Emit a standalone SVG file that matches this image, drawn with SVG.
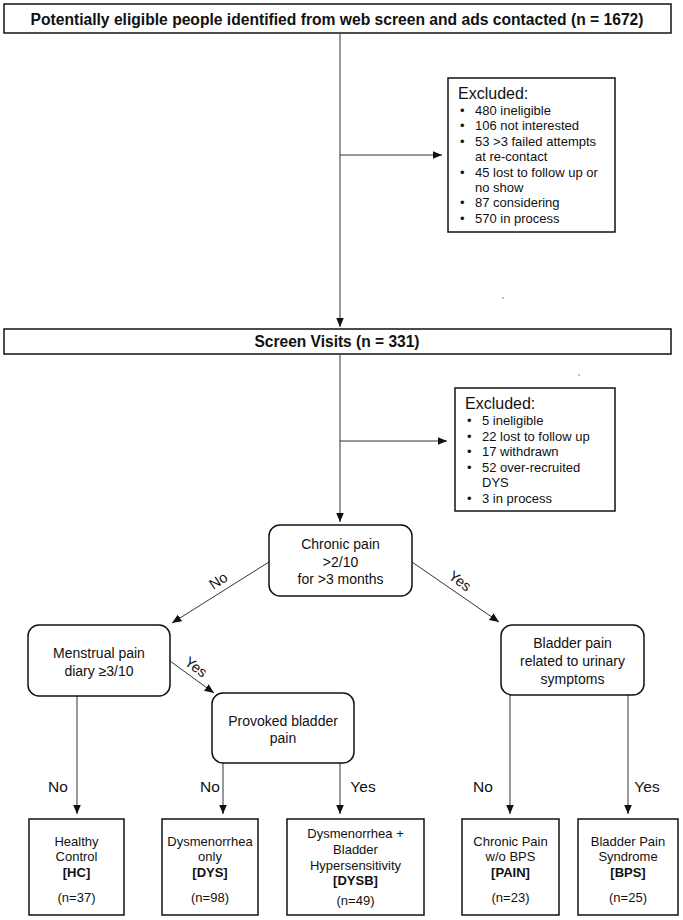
<svg xmlns="http://www.w3.org/2000/svg" width="683" height="920" viewBox="0 0 683 920">
<style>
text{font-family:"Liberation Sans",Arial,sans-serif;fill:#111}
.title{font-size:16px;font-weight:bold;text-anchor:middle}
.ex{font-size:13px}
.exh{font-size:16px}
.n{font-size:14px;text-anchor:middle}
.b{font-size:13px;text-anchor:middle}
.bb{font-size:13px;font-weight:bold;text-anchor:middle}
.lbl{font-size:15.5px;text-anchor:middle}
.rl{font-size:14.5px;text-anchor:middle}
.box{fill:#fff;stroke:#111;stroke-width:1.5}
.ln{fill:none;stroke:#333;stroke-width:1}
</style>
<defs>
<marker id="ah" markerUnits="userSpaceOnUse" markerWidth="11" markerHeight="9" refX="9.5" refY="4" orient="auto">
<path d="M0,0 L9.5,4 L0,8 z" fill="#111"/>
</marker>
</defs>
<rect width="683" height="920" fill="#fff"/>
<circle cx="503" cy="298" r="0.8" fill="#777"/>
<circle cx="579" cy="375" r="0.8" fill="#777"/>
<g id="connectors">
<line class="ln" x1="340" y1="34" x2="340" y2="327" marker-end="url(#ah)"/>
<line class="ln" x1="340" y1="155" x2="442" y2="155" marker-end="url(#ah)"/>
<line class="ln" x1="340" y1="355" x2="340" y2="522" marker-end="url(#ah)"/>
<line class="ln" x1="340" y1="441" x2="447" y2="441" marker-end="url(#ah)"/>
<line class="ln" x1="269" y1="562" x2="172" y2="623" marker-end="url(#ah)"/>
<line class="ln" x1="412" y1="562" x2="499" y2="622" marker-end="url(#ah)"/>
<line class="ln" x1="170" y1="661" x2="214" y2="693" marker-end="url(#ah)"/>
<line class="ln" x1="77" y1="696" x2="77" y2="814" marker-end="url(#ah)"/>
<line class="ln" x1="223" y1="763" x2="223" y2="814" marker-end="url(#ah)"/>
<line class="ln" x1="340" y1="763" x2="340" y2="814" marker-end="url(#ah)"/>
<line class="ln" x1="510" y1="695" x2="510" y2="814" marker-end="url(#ah)"/>
<line class="ln" x1="628" y1="695" x2="628" y2="814" marker-end="url(#ah)"/>
<text class="rl" transform="translate(221,585) rotate(-33)">No</text>
<text class="rl" transform="translate(457,585) rotate(36)">Yes</text>
<text class="rl" transform="translate(193,671) rotate(36)">Yes</text>
<text class="lbl" x="58" y="792">No</text>
<text class="lbl" x="210" y="792">No</text>
<text class="lbl" x="363" y="792">Yes</text>
<text class="lbl" x="483" y="792">No</text>
<text class="lbl" x="647" y="792">Yes</text>
</g>
<g id="identified">
<rect class="box" x="4" y="4" width="667" height="29"/>
<text class="title" x="337" y="25" textLength="613" lengthAdjust="spacingAndGlyphs">Potentially eligible people identified from web screen and ads contacted (n = 1672)</text>
</g>
<g id="excluded1">
<rect class="box" x="448" y="78" width="167" height="154"/>
<text class="exh" x="458" y="99">Excluded:</text>
<text class="ex"><tspan x="460" y="115">•</tspan><tspan x="475" y="115">480 ineligible</tspan>
<tspan x="460" y="130.4">•</tspan><tspan x="475" y="130.4">106 not interested</tspan>
<tspan x="460" y="145.8">•</tspan><tspan x="475" y="145.8">53 &gt;3 failed attempts</tspan>
<tspan x="475" y="161.2">at re-contact</tspan>
<tspan x="460" y="176.6">•</tspan><tspan x="475" y="176.6">45 lost to follow up or</tspan>
<tspan x="475" y="192">no show</tspan>
<tspan x="460" y="207.4">•</tspan><tspan x="475" y="207.4">87 considering</tspan>
<tspan x="460" y="222.8">•</tspan><tspan x="475" y="222.8">570 in process</tspan></text>
</g>
<g id="screen">
<rect class="box" x="4" y="329" width="667" height="25"/>
<text class="title" x="337" y="347" textLength="165" lengthAdjust="spacingAndGlyphs">Screen Visits (n = 331)</text>
</g>
<g id="excluded2">
<rect class="box" x="455" y="388" width="160" height="123"/>
<text class="exh" x="465" y="409">Excluded:</text>
<text class="ex"><tspan x="467" y="425">•</tspan><tspan x="482" y="425">5 ineligible</tspan>
<tspan x="467" y="440.5">•</tspan><tspan x="482" y="440.5">22 lost to follow up</tspan>
<tspan x="467" y="456">•</tspan><tspan x="482" y="456">17 withdrawn</tspan>
<tspan x="467" y="471.5">•</tspan><tspan x="482" y="471.5">52 over-recruited</tspan>
<tspan x="482" y="487">DYS</tspan>
<tspan x="467" y="502.5">•</tspan><tspan x="482" y="502.5">3 in process</tspan></text>
</g>
<g id="chronic">
<rect class="box" x="269" y="525" width="143" height="71" rx="11"/>
<text class="n" x="340.5" y="549">Chronic pain</text>
<text class="n" x="340.5" y="566.5">&gt;2/10</text>
<text class="n" x="340.5" y="584">for &gt;3 months</text>
</g>
<g id="menstrual">
<rect class="box" x="28" y="625" width="142" height="71" rx="11"/>
<text class="n" x="99" y="658">Menstrual pain</text>
<text class="n" x="99" y="676">diary ≥3/10</text>
</g>
<g id="bladder">
<rect class="box" x="501" y="625" width="143" height="70" rx="11"/>
<text class="n" x="572.5" y="648">Bladder pain</text>
<text class="n" x="572.5" y="666">related to urinary</text>
<text class="n" x="572.5" y="684">symptoms</text>
</g>
<g id="provoked">
<rect class="box" x="212" y="693" width="142" height="70" rx="11"/>
<text class="n" x="283" y="726">Provoked bladder</text>
<text class="n" x="283" y="743">pain</text>
</g>
<g id="hc">
<rect class="box" x="29" y="819" width="95" height="96"/>
<text class="b" x="76.5" y="846">Healthy</text>
<text class="b" x="76.5" y="861">Control</text>
<text class="bb" x="76.5" y="877">[HC]</text>
<text class="b" x="76.5" y="902">(n=37)</text>
</g>
<g id="dys">
<rect class="box" x="162" y="819" width="96" height="96"/>
<text class="b" x="210" y="846">Dysmenorrhea</text>
<text class="b" x="210" y="861">only</text>
<text class="bb" x="210" y="877">[DYS]</text>
<text class="b" x="210" y="902">(n=98)</text>
</g>
<g id="dysb">
<rect class="box" x="287" y="819" width="137" height="96"/>
<text class="b" x="355.5" y="838">Dysmenorrhea +</text>
<text class="b" x="355.5" y="854">Bladder</text>
<text class="b" x="355.5" y="870">Hypersensitivity</text>
<text class="bb" x="355.5" y="885">[DYSB]</text>
<text class="b" x="355.5" y="905">(n=49)</text>
</g>
<g id="pain">
<rect class="box" x="462" y="819" width="97" height="96"/>
<text class="b" x="510.5" y="846">Chronic Pain</text>
<text class="b" x="510.5" y="861">w/o BPS</text>
<text class="bb" x="510.5" y="877">[PAIN]</text>
<text class="b" x="510.5" y="902">(n=23)</text>
</g>
<g id="bps">
<rect class="box" x="578" y="819" width="100" height="96"/>
<text class="b" x="628" y="846">Bladder Pain</text>
<text class="b" x="628" y="861">Syndrome</text>
<text class="bb" x="628" y="877">[BPS]</text>
<text class="b" x="628" y="902">(n=25)</text>
</g>
</svg>
